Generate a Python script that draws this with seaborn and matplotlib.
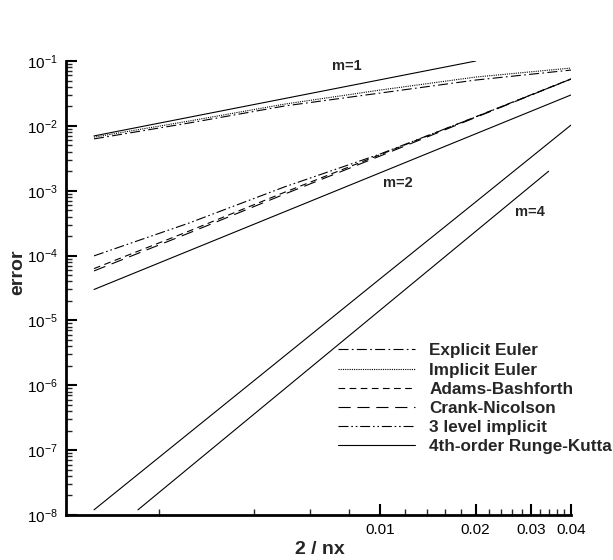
import matplotlib
matplotlib.use("Agg")
import matplotlib.pyplot as plt
import seaborn as sns
import pandas as pd
from matplotlib.ticker import FixedLocator, NullFormatter
from matplotlib.lines import Line2D

# ---- data ----
dx = [0.00125, 0.0025, 0.005, 0.01, 0.02, 0.04]
explicit_euler = [6.3e-3, 1.11e-2, 2.03e-2, 3.21e-2, 5.09e-2, 7.26e-2]
implicit_euler = [6.7e-3, 1.19e-2, 2.17e-2, 3.57e-2, 5.66e-2, 7.8e-2]
adams_bashforth = [6.3e-5, 2.4e-4, 9.5e-4, 3.6e-3, 1.38e-2, 5.3e-2]
crank_nicolson = [5.8e-5, 2.24e-4, 8.9e-4, 3.44e-3, 1.35e-2, 5.28e-2]
three_level = [9.9e-5, 3.19e-4, 1.15e-3, 3.69e-3, 1.37e-2, 5.28e-2]
rk4 = [1.2e-8, 1.85e-7, 2.85e-6, 4.4e-5, 6.7e-4, 1.03e-2]

ref1_x = [0.00125, 0.02]
ref1_y = [7.0e-3, 0.1]
ref2_x = [0.00125, 0.04]
ref2_y = [3.0e-5, 3.0e-2]
ref4_x = [0.00172, 0.034]
ref4_y = [1.2e-8, 2.0e-3]

series_names = ["Explicit Euler", "Implicit Euler", "Adams-Bashforth",
                "Crank-Nicolson", "3 level implicit", "4th-order Runge-Kutta"]
series_values = [explicit_euler, implicit_euler, adams_bashforth,
                 crank_nicolson, three_level, rk4]
series_styles = [(0, (9, 3, 1.5, 3)), (0, (1, 1)), (0, (6, 4)),
                 (0, (11, 6)), (0, (9, 2.5, 1.5, 2.5, 1.5, 2.5)), "-"]

xtick_major = [0.01, 0.02, 0.03, 0.04]
xtick_labels = ["0.01", "0.02", "0.03", "0.04"]
xtick_minor = [0.002, 0.004, 0.006, 0.008, 0.012, 0.014, 0.016, 0.018,
               0.022, 0.024, 0.026, 0.028, 0.032, 0.034, 0.036, 0.038]

annotations = [("m=1", 0.00705, 0.083), ("m=2", 0.0102, 1.32e-3), ("m=4", 0.0266, 4.7e-4)]

# ---- style ----
sns.set_style("ticks")
plt.rcParams["font.family"] = ["Liberation Sans", "DejaVu Sans"]
plt.rcParams["mathtext.fontset"] = "custom"
plt.rcParams["mathtext.rm"] = "Liberation Sans"
plt.rcParams["mathtext.it"] = "Liberation Sans"
plt.rcParams["mathtext.default"] = "regular"

fig = plt.figure(figsize=(6.13, 5.6), dpi=100)
ax = fig.add_axes([0.1077, 0.0804, 0.8238, 0.8106])

handles = []
for name, vals, ls in zip(series_names, series_values, series_styles):
    df = pd.DataFrame({"dx": dx, "err": vals})
    sns.lineplot(data=df, x="dx", y="err", ax=ax, color="black",
                 linewidth=0.8, linestyle=ls, legend=False)
    handles.append(Line2D([], [], color="black", linewidth=0.8, linestyle=ls, label=name))

for rx, ry in [(ref1_x, ref1_y), (ref2_x, ref2_y), (ref4_x, ref4_y)]:
    sns.lineplot(x=rx, y=ry, ax=ax, color="black", linewidth=0.8, legend=False)

ax.set_xscale("log")
ax.set_yscale("log")
ax.set_xlim(0.00102, 0.04)
ax.set_ylim(1e-8, 1e-1)

ax.xaxis.set_major_locator(FixedLocator(xtick_major))
ax.set_xticklabels(xtick_labels)
ax.xaxis.set_minor_locator(FixedLocator(xtick_minor))
ax.xaxis.set_minor_formatter(NullFormatter())

ax.tick_params(axis="both", which="major", direction="in", length=8, width=1.5,
               labelsize=11, colors="black")
ax.tick_params(axis="both", which="minor", direction="in", length=4, width=1.0)
ax.tick_params(axis="y", which="major", pad=6)
ax.tick_params(axis="x", which="major", pad=6)

for s in ["top", "right"]:
    ax.spines[s].set_visible(False)
for s in ["left", "bottom"]:
    ax.spines[s].set_linewidth(2)
    ax.spines[s].set_color("black")

ax.set_xlabel("2 / nx", fontsize=14, fontweight="bold")
ax.xaxis.set_label_coords(0.503, -0.058)
ax.set_ylabel("error", fontsize=14, fontweight="bold")
ax.yaxis.set_label_coords(-0.079, 0.535)

for txt, tx, ty in annotations:
    ax.text(tx, ty, txt, fontsize=10.5, fontweight="bold", ha="left", va="center")

leg = ax.legend(handles=handles, loc="upper left", bbox_to_anchor=(0.539, 0.378),
                frameon=False, handlelength=4.5, handletextpad=0.82,
                labelspacing=0.245, borderaxespad=0, borderpad=0,
                prop={"weight": "bold", "size": 12.3})

fig.savefig("out.png", dpi=100)
